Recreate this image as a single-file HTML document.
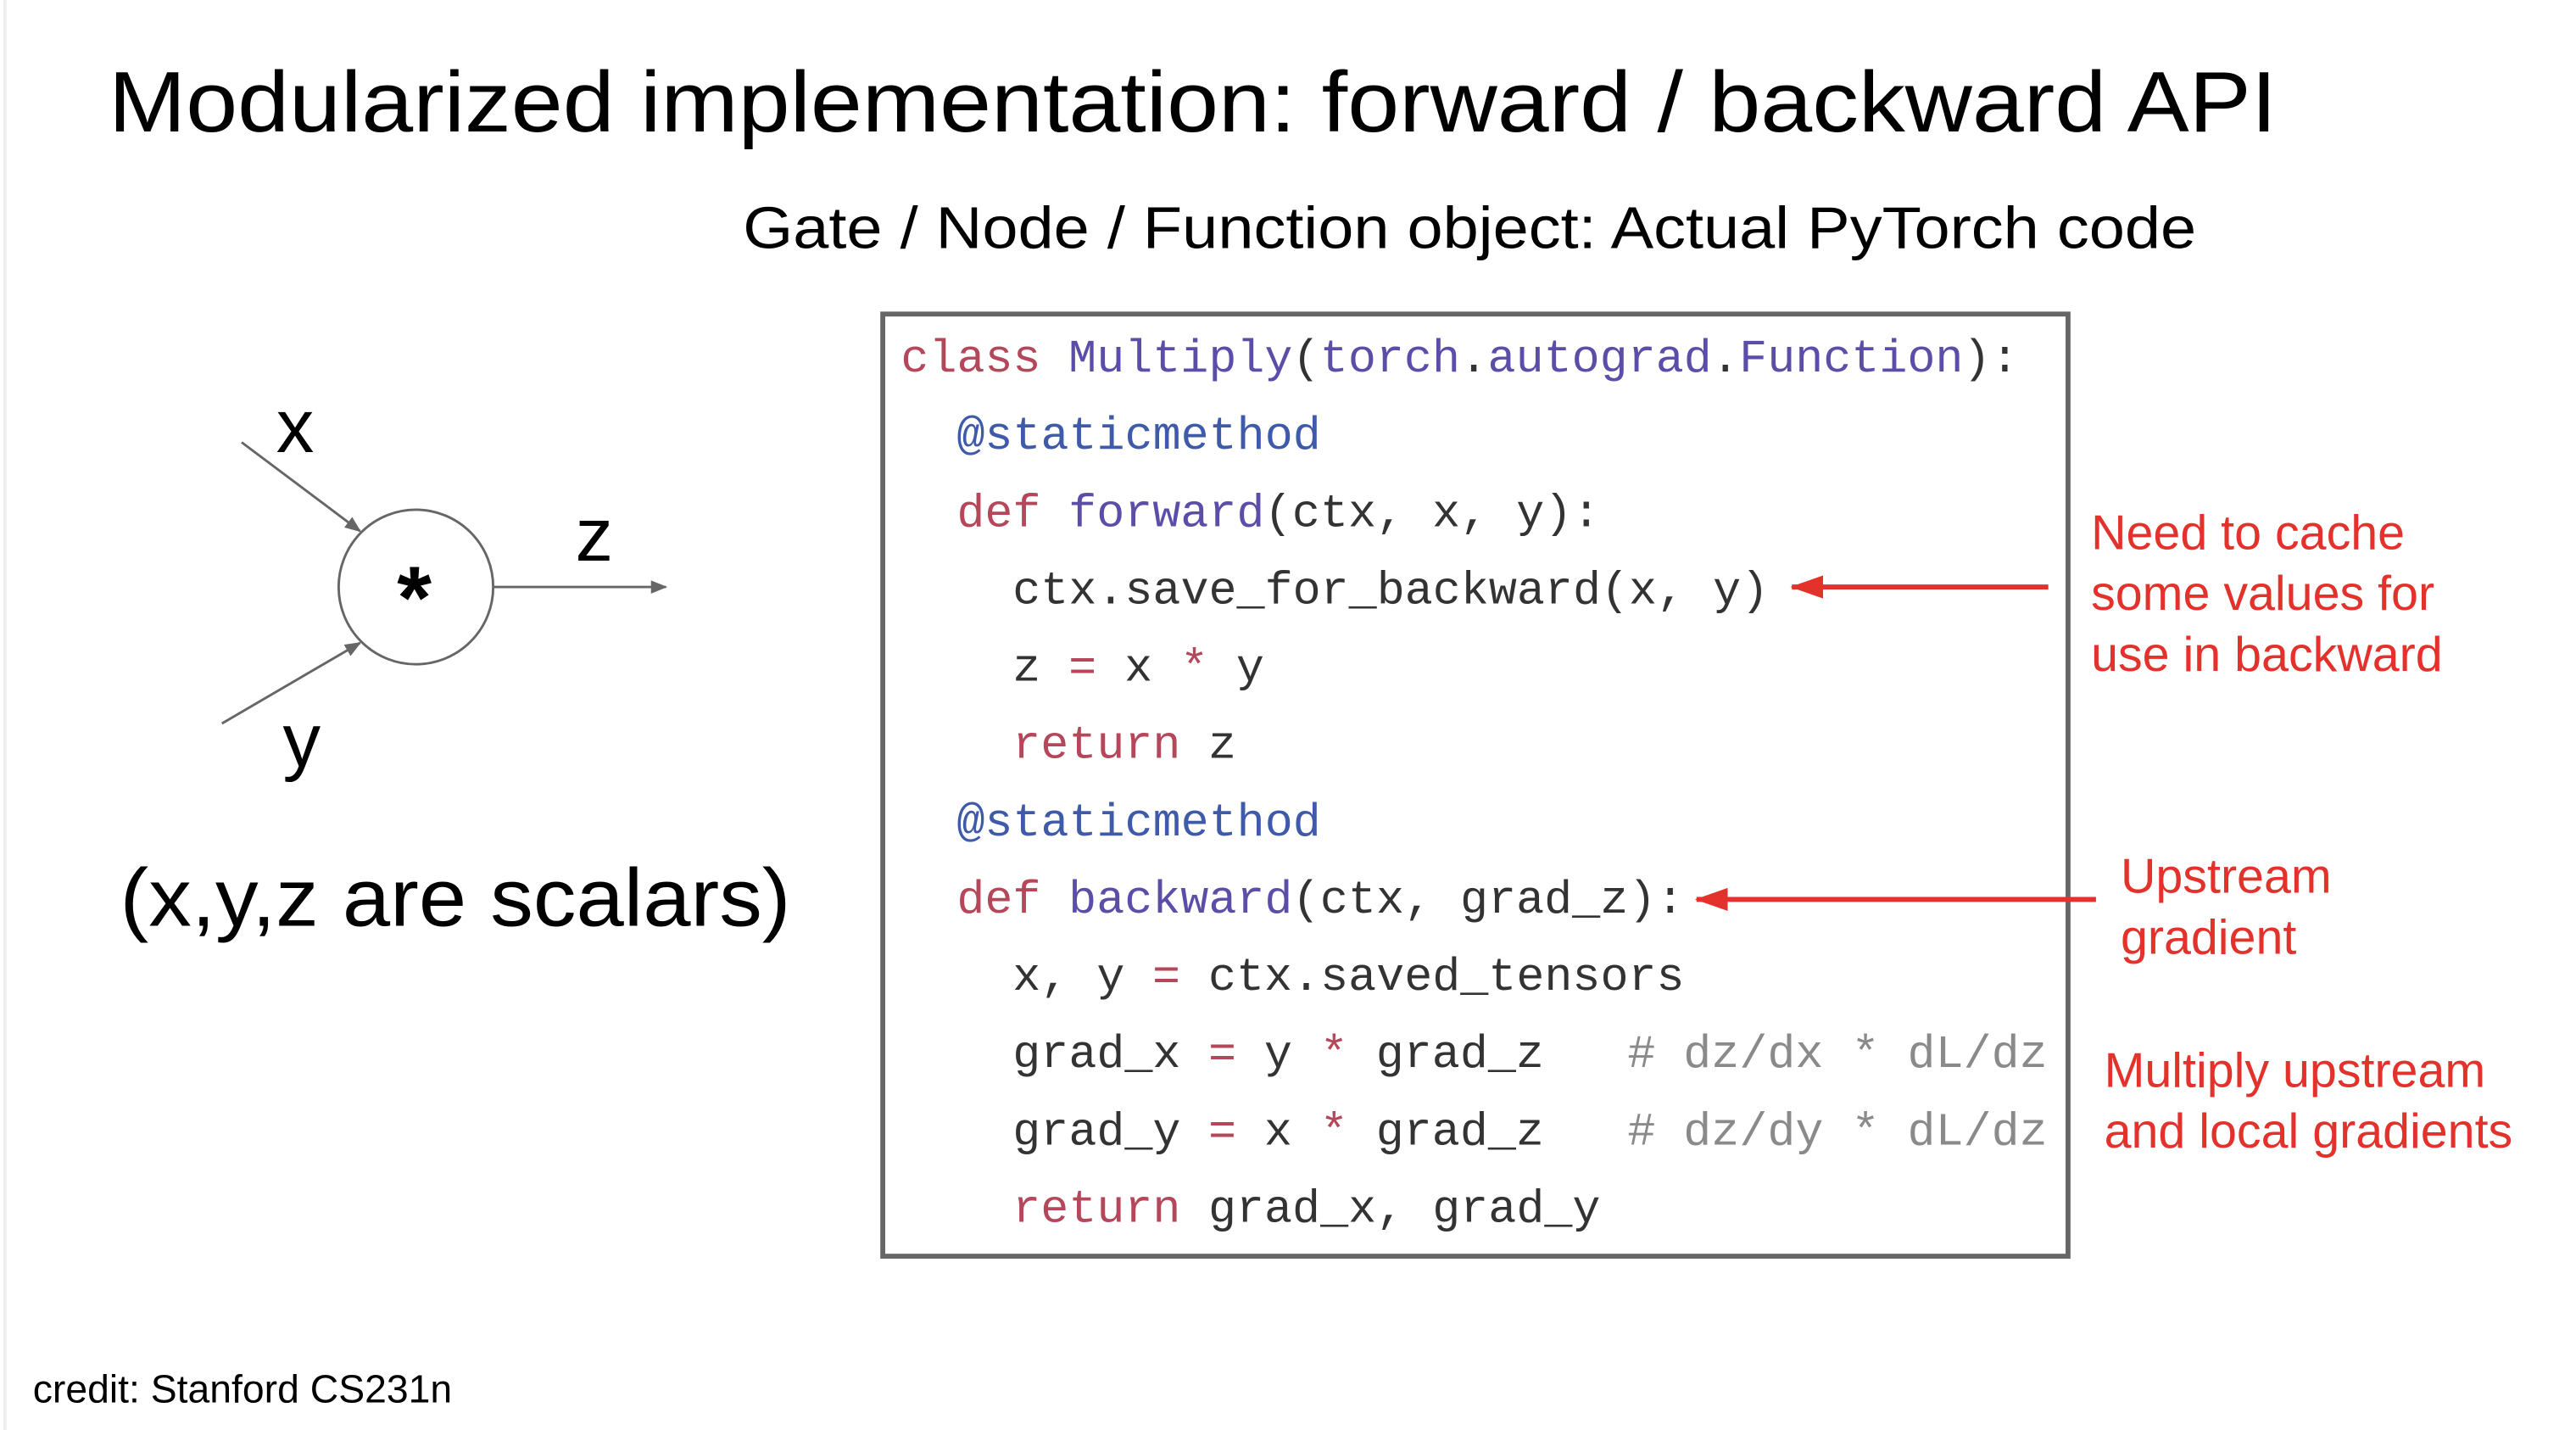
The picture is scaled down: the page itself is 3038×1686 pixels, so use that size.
<!DOCTYPE html>
<html><head><meta charset="utf-8"><style>
html,body{margin:0;padding:0;background:#fff;width:3038px;height:1686px;overflow:hidden}
svg{display:block}
.m{font-family:"Liberation Mono","DejaVu Sans Mono",monospace;font-size:28.4px;white-space:pre}
.k{fill:#b5475a}.n{fill:#5c4ea8}.d{fill:#3e5aa8}.c{fill:#8a8a8a}.p{fill:#333}
.r{font-family:"Liberation Sans",sans-serif;font-size:29.6px;fill:#e3322b}
</style></head><body>
<svg width="3038" height="1686" viewBox="0 0 1567 869.7" preserveAspectRatio="none" xmlns="http://www.w3.org/2000/svg">
<defs>
<marker id="ag" markerWidth="10" markerHeight="8" refX="9" refY="4" orient="auto" markerUnits="userSpaceOnUse"><path d="M0,0 L10,4 L0,8 z" fill="#666"/></marker>
<marker id="ar" markerWidth="20" markerHeight="14" refX="19" refY="7" orient="auto" markerUnits="userSpaceOnUse"><path d="M0,0 L20,7 L0,14 z" fill="#e3322b"/></marker>
</defs>
<line x1="3" y1="0" x2="3" y2="870" stroke="#eee" stroke-width="2"/>
<text x="66" y="80" font-family="Liberation Sans,sans-serif" font-size="52" fill="#000" textLength="1319" lengthAdjust="spacingAndGlyphs">Modularized implementation: forward / backward API</text>
<text x="452" y="151" font-family="Liberation Sans,sans-serif" font-size="36" fill="#000" textLength="884" lengthAdjust="spacingAndGlyphs">Gate / Node / Function object: Actual PyTorch code</text>

<!-- graph -->
<circle cx="253" cy="357" r="47" fill="none" stroke="#666" stroke-width="1.5"/>
<text x="252" y="382" text-anchor="middle" font-family="Liberation Sans,sans-serif" font-size="54" font-weight="bold" fill="#000">*</text>
<line x1="147" y1="269" x2="219" y2="323" stroke="#666" stroke-width="1.5" marker-end="url(#ag)"/>
<line x1="135" y1="440" x2="219" y2="391" stroke="#666" stroke-width="1.5" marker-end="url(#ag)"/>
<line x1="300" y1="357" x2="405" y2="357" stroke="#666" stroke-width="1.5" marker-end="url(#ag)"/>
<text x="168" y="275" font-family="Liberation Sans,sans-serif" font-size="46">x</text>
<text x="350" y="341" font-family="Liberation Sans,sans-serif" font-size="46">z</text>
<text x="172" y="466" font-family="Liberation Sans,sans-serif" font-size="46">y</text>
<text x="73" y="563" font-family="Liberation Sans,sans-serif" font-size="50" textLength="408" lengthAdjust="spacingAndGlyphs">(x,y,z are scalars)</text>
<text x="20" y="853" font-family="Liberation Sans,sans-serif" font-size="24" textLength="255" lengthAdjust="spacingAndGlyphs">credit: Stanford CS231n</text>

<!-- code box -->
<rect x="537" y="191" width="721" height="573" fill="#fff" stroke="#666" stroke-width="3"/>
<g class="m">
<text y="226"><tspan x="548" class="k">class</tspan><tspan x="650" class="n">Multiply</tspan><tspan x="786" class="p">(</tspan><tspan x="803" class="n">torch</tspan><tspan x="888" class="p">.</tspan><tspan x="905" class="n">autograd</tspan><tspan x="1041" class="p">.</tspan><tspan x="1058" class="n">Function</tspan><tspan x="1194" class="p">):</tspan></text>
<text y="273"><tspan x="582" class="d">@staticmethod</tspan></text>
<text y="320"><tspan x="582" class="k">def</tspan><tspan x="650" class="n">forward</tspan><tspan x="769" class="p">(ctx, x, y):</tspan></text>
<text y="367"><tspan x="616" class="p">ctx.save_for_backward(x, y)</tspan></text>
<text y="414"><tspan x="616" class="p">z</tspan><tspan x="650" class="k">=</tspan><tspan x="684" class="p">x</tspan><tspan x="718" class="k">*</tspan><tspan x="752" class="p">y</tspan></text>
<text y="461"><tspan x="616" class="k">return</tspan><tspan x="735" class="p">z</tspan></text>
<text y="508"><tspan x="582" class="d">@staticmethod</tspan></text>
<text y="555"><tspan x="582" class="k">def</tspan><tspan x="650" class="n">backward</tspan><tspan x="786" class="p">(ctx, grad_z):</tspan></text>
<text y="602"><tspan x="616" class="p">x, y</tspan><tspan x="701" class="k">=</tspan><tspan x="735" class="p">ctx.saved_tensors</tspan></text>
<text y="649"><tspan x="616" class="p">grad_x</tspan><tspan x="735" class="k">=</tspan><tspan x="769" class="p">y</tspan><tspan x="803" class="k">*</tspan><tspan x="837" class="p">grad_z</tspan><tspan x="990" class="c">#</tspan><tspan x="1024" class="c">dz/dx * dL/dz</tspan></text>
<text y="696"><tspan x="616" class="p">grad_y</tspan><tspan x="735" class="k">=</tspan><tspan x="769" class="p">x</tspan><tspan x="803" class="k">*</tspan><tspan x="837" class="p">grad_z</tspan><tspan x="990" class="c">#</tspan><tspan x="1024" class="c">dz/dy * dL/dz</tspan></text>
<text y="743"><tspan x="616" class="k">return</tspan><tspan x="735" class="p">grad_x, grad_y</tspan></text>
</g>

<!-- annotations -->
<line x1="1246" y1="357" x2="1090" y2="357" stroke="#e3322b" stroke-width="3" marker-end="url(#ar)"/>
<line x1="1275" y1="547" x2="1032" y2="547" stroke="#e3322b" stroke-width="3" marker-end="url(#ar)"/>
<text class="r" x="1272" y="334">Need to cache</text>
<text class="r" x="1272" y="371">some values for</text>
<text class="r" x="1272" y="408">use in backward</text>
<text class="r" x="1290" y="543">Upstream</text>
<text class="r" x="1290" y="580">gradient</text>
<text class="r" x="1280" y="661">Multiply upstream</text>
<text class="r" x="1280" y="698">and local gradients</text>
</svg>
</body></html>
